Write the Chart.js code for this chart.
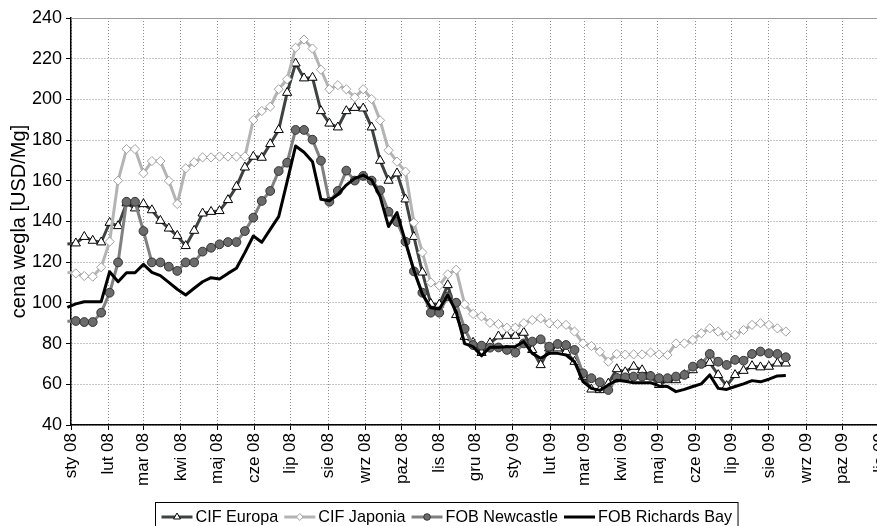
<!DOCTYPE html>
<html>
<head>
<meta charset="utf-8">
<title>Ceny wegla 2008-2009</title>
<script src="https://cdn.jsdelivr.net/npm/chart.js@4.4.0/dist/chart.umd.min.js"></script>
<style>
  html, body { margin: 0; padding: 0; background: #fff; overflow: hidden; }
  #wrap { position: relative; width: 890px; height: 526px; }
</style>
</head>
<body>
<div id="wrap"><canvas id="coalChart" width="890" height="526"></canvas></div>
<script>
// month ticks on the x axis (first day of each month)
var MONTH_LABELS = ["sty 08", "lut 08", "mar 08", "kwi 08", "maj 08", "cze 08", "lip 08", "sie 08",
  "wrz 08", "paz 08", "lis 08", "gru 08", "sty 09", "lut 09", "mar 09", "kwi 09", "maj 09",
  "cze 09", "lip 09", "sie 09", "wrz 09", "paz 09", "lis 09"];
var Y_TICKS = [40, 60, 80, 100, 120, 140, 160, 180, 200, 220, 240];

// weekly quotes, first one dated 29 Dec 2007
var FIRST_WEEK = "2007-12-29";

var CIF_EUROPA = [129, 129.3, 132.5, 130.6, 129.8, 139.4, 137.8, 149, 146.5, 148.6, 145.6, 140.4,
  136.6, 133, 128, 135.5, 144, 144.8, 145.2, 150.6, 157.1, 166.6, 171.9, 171.4, 178.1, 185, 203.3,
  217.7, 210.4, 210.7, 194.3, 188.2, 186.3, 194.3, 195.9, 195.6, 186.3, 169.9, 160.1, 163.7, 150.9,
  132.5, 115, 99.6, 99.2, 108.8, 94.1, 83.4, 80.5, 75.5, 80.3, 83.6, 83.9, 83.9, 85.4, 76.9, 69.5,
  77.7, 77.7, 76, 71.1, 63.8, 57.5, 57.2, 60.4, 67.5, 66, 68.7, 67, 63.8, 59.7, 62.1, 62.1, 64.6,
  67, 70, 70.6, 64.6, 59.2, 64.6, 66.7, 69, 68.4, 68.7, 70.3, 70.3];

var CIF_JAPONIA = [115, 114.5, 113.2, 112.9, 117.5, 130.1, 160.1, 175.6, 175.6, 163.7, 169.7, 169.7,
  160, 148.6, 166.1, 169.1, 171.5, 171.5, 171.9, 171.9, 171.9, 171.9, 189.9, 194.3, 196.4, 205, 209.9,
  225.4, 229.4, 225, 214.6, 205, 207, 205, 201, 205, 200.2, 189.7, 175, 169.4, 164.5, 139.4, 124.8,
  110, 108.5, 114, 116.3, 99.3, 94.6, 93.4, 90.2, 89.6, 87.8, 87.8, 90, 91.6, 92.4, 90, 89.6, 89.2,
  85.9, 80.1, 78.8, 76, 71.1, 74.9, 74.6, 74.7, 74.7, 75.6, 74.7, 74.4, 80.1, 80.1, 81.8, 85.1, 87.5,
  85.9, 83.8, 84.3, 86.7, 89.2, 90, 89.2, 87.5, 85.9];

var FOB_NEWCASTLE = [91, 91.1, 90.6, 90.6, 95.2, 105, 119.9, 149.7, 149.7, 135.3, 119.9, 119.9, 117.8,
  115.7, 119.9, 119.9, 125.2, 127.1, 128.8, 129.9, 129.9, 135.3, 141.9, 150.1, 155, 164.8, 168.9, 185,
  185, 180.2, 169.9, 149.7, 155, 165, 160.1, 162.4, 160.1, 155.3, 144.8, 139.8, 130.1, 115.5, 105,
  95.2, 95.2, 103.2, 100.1, 87.3, 79.3, 79, 78, 78.1, 76.9, 75.6, 80.1, 81, 82.1, 78.5, 79.8, 79.3,
  76.9, 65.4, 63, 61, 57.2, 63.2, 63.4, 63.8, 63.8, 64.1, 63, 63, 63.8, 64.6, 68.7, 70, 74.9, 71.1,
  69.5, 72, 71.6, 74.9, 76.1, 75.2, 74.9, 73.3];

var FOB_RICHARDS_BAY = [97.8, 99.5, 100.6, 100.6, 100.6, 115.3, 110.4, 114.8, 114.8, 118.9, 115, 113.4,
  110.1, 106.7, 103.9, 107.2, 110.4, 112.4, 111.7, 114.5, 117, 124.7, 132.9, 129.8, 136.1, 142.4, 159.6,
  177.1, 174, 169.4, 150.9, 150.2, 153.3, 157.9, 161.2, 162.8, 160.4, 152.2, 137.5, 144.4, 130, 116,
  104.3, 97.6, 97, 103.9, 95.6, 80, 78.5, 74, 78.2, 78.2, 78.5, 78.5, 81, 75.2, 72.8, 75.2, 75.2, 74.4,
  71.1, 61.3, 58, 57, 59.7, 62, 61.5, 60.8, 60.8, 60.8, 59.2, 58.9, 56.4, 57.5, 58.9, 60.2, 64.6, 58,
  57.5, 58.9, 60.2, 61.8, 61.2, 62.5, 64.1, 64.3];

var DAY = 86400000;
var ORIGIN = Date.UTC(2008, 0, 1);

// day offsets of month ticks, counted from 1 Jan 2008
var tickDays = MONTH_LABELS.map(function (lbl, i) {
  return (Date.UTC(2008, i, 1) - ORIGIN) / DAY;
});
var tickText = {};
tickDays.forEach(function (d, i) { tickText[d] = MONTH_LABELS[i]; });

var firstDay = (Date.parse(FIRST_WEEK) - ORIGIN) / DAY;

function toPoints(values) {
  return values.map(function (v, i) {
    return { x: firstDay + 7 * i, y: v };
  });
}

// hide markers of the week that falls before the axis start
function markerSize(r) {
  return function (ctx) {
    return ctx.raw && ctx.raw.x < 0 ? 0 : r;
  };
}

var SERIES = [
  { label: "CIF Europa", data: CIF_EUROPA, line: "#3e4242", style: "triangle", r: 5.3,
    fill: "#ffffff", edge: "#000000", order: 3 },
  { label: "CIF Japonia", data: CIF_JAPONIA, line: "#b4b4b4", style: "rectRot", r: 4.6,
    fill: "#ffffff", edge: "#a0a0a0", order: 2 },
  { label: "FOB Newcastle", data: FOB_NEWCASTLE, line: "#808080", style: "circle", r: 4.4,
    fill: "#6b6b6b", edge: "#333333", order: 1 },
  { label: "FOB Richards Bay", data: FOB_RICHARDS_BAY, line: "#000000", style: false, r: 0,
    fill: "#000000", edge: "#000000", order: 0 }
];

var FONT = "'Liberation Sans', Arial, sans-serif";

var plotFrame = {
  id: "plotFrame",
  beforeDatasetsDraw: function (chart) {
    var a = chart.chartArea;
    var ctx = chart.ctx;
    ctx.save();
    ctx.strokeStyle = "#9a9a9a";
    ctx.lineWidth = 1;
    ctx.beginPath();
    ctx.moveTo(a.left, Math.round(a.top) + 0.5);
    ctx.lineTo(a.right, Math.round(a.top) + 0.5);
    ctx.stroke();
    ctx.restore();
  }
};

// Excel-like legend: line sample with marker, boxed, under the axis labels
var boxLegend = {
  id: "boxLegend",
  afterDraw: function (chart) {
    var ctx = chart.ctx;
    var sample = 31, gapText = 3, gapItem = 6, pad = 6;
    ctx.save();
    ctx.font = "16.2px " + FONT;
    var total = pad * 2;
    SERIES.forEach(function (s, i) {
      total += sample + gapText + ctx.measureText(s.label).width;
      if (i < SERIES.length - 1) total += gapItem;
    });
    var left = Math.round(446 - total / 2) + 0.5;
    var top = 502.5;
    var cy = 517;
    ctx.strokeStyle = "#000";
    ctx.lineWidth = 1;
    ctx.strokeRect(left, top, total, 30);

    var x = left + pad;
    SERIES.forEach(function (s) {
      ctx.strokeStyle = s.line;
      ctx.lineWidth = 3;
      ctx.beginPath();
      ctx.moveTo(x, cy);
      ctx.lineTo(x + sample, cy);
      ctx.stroke();
      if (s.style) {
        ctx.fillStyle = s.fill;
        ctx.strokeStyle = s.edge;
        ctx.lineWidth = 1;
        Chart.helpers.drawPoint(ctx, { pointStyle: s.style, radius: s.r * 0.75, borderWidth: 1, rotation: 0 },
          x + sample / 2, cy);
      }
      x += sample + gapText;
      ctx.fillStyle = "#000";
      ctx.textBaseline = "middle";
      ctx.textAlign = "left";
      ctx.fillText(s.label, x, cy + 1);
      x += ctx.measureText(s.label).width + gapItem;
    });
    ctx.restore();
  }
};

new Chart(document.getElementById("coalChart"), {
  type: "line",
  data: {
    datasets: SERIES.map(function (s) {
      return {
        label: s.label,
        data: toPoints(s.data),
        order: s.order,
        borderColor: s.line,
        borderWidth: 3,
        borderJoinStyle: "round",
        borderCapStyle: "butt",
        tension: 0,
        fill: false,
        pointStyle: s.style || "circle",
        pointRadius: markerSize(s.r),
        pointHoverRadius: 0,
        pointBackgroundColor: s.fill,
        pointBorderColor: s.edge,
        pointBorderWidth: 1,
        clip: { left: 8, top: 6, right: 0, bottom: 6 }
      };
    })
  },
  options: {
    responsive: false,
    animation: false,
    events: [],
    layout: { padding: { left: 0, right: 10, top: 18, bottom: 0 } },
    plugins: { legend: { display: false }, tooltip: { enabled: false } },
    scales: {
      x: {
        type: "linear",
        min: 0,
        max: tickDays[tickDays.length - 1],
        afterBuildTicks: function (scale) {
          scale.ticks = tickDays.map(function (d) { return { value: d }; });
        },
        afterFit: function (scale) {
          scale.height = 101;
          scale.paddingLeft = 0;
          scale.paddingRight = 0;
        },
        ticks: {
          autoSkip: false,
          minRotation: 90,
          maxRotation: 90,
          padding: 3,
          color: "#000",
          font: { family: FONT, size: 17 },
          callback: function (v) { return tickText[v]; }
        },
        grid: {
          color: "#8c8c8c",
          lineWidth: 1,
          tickLength: 5,
          tickColor: "#000",
          tickWidth: 1,
          tickBorderDash: []
        },
        border: { display: true, color: "#000", width: 1.5, dash: [1, 2] }
      },
      y: {
        min: 40,
        max: 240,
        afterBuildTicks: function (scale) {
          scale.ticks = Y_TICKS.map(function (v) { return { value: v }; });
        },
        afterFit: function (scale) { scale.width = 71; },
        ticks: {
          padding: 4,
          color: "#000",
          font: { family: FONT, size: 18 }
        },
        grid: {
          color: "#8c8c8c",
          lineWidth: 1,
          tickLength: 5,
          tickColor: "#000",
          tickWidth: 1,
          tickBorderDash: []
        },
        border: { display: true, color: "#000", width: 1.5, dash: [1, 2] },
        title: {
          display: true,
          text: "cena wegla [USD/Mg]",
          color: "#000",
          font: { family: FONT, size: 20 },
          padding: { top: 7, bottom: 0 }
        }
      }
    }
  },
  plugins: [plotFrame, boxLegend]
});
</script>
</body>
</html>
